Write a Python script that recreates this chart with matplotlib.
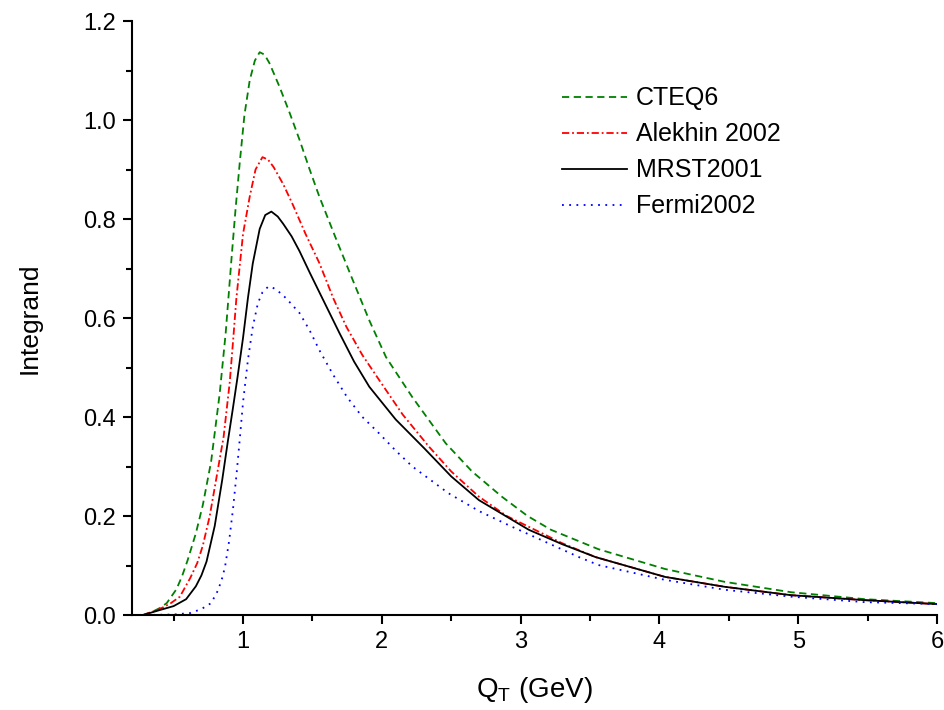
import numpy as np
import matplotlib
matplotlib.use('Agg')
import matplotlib.pyplot as plt
from matplotlib.ticker import MultipleLocator, FormatStrFormatter

plt.rcParams['font.family'] = ['Liberation Sans', 'DejaVu Sans']
plt.rcParams['mathtext.fontset'] = 'custom'
plt.rcParams['mathtext.rm'] = 'Liberation Sans'

# CTEQ6
cteq_x = [0.28, 0.35, 0.40, 0.45, 0.52, 0.56, 0.60, 0.66, 0.71, 0.77, 0.832, 0.875, 0.916, 0.946, 0.976,
          1.01, 1.048, 1.085, 1.12, 1.155, 1.19, 1.263, 1.335, 1.407, 1.48, 1.55, 1.67, 1.79, 1.91, 2.03,
          2.22, 2.46, 2.65, 2.865, 3.05, 3.22, 3.56, 4.04, 4.47, 4.95, 5.48, 6.0]
cteq_y = [0.0, 0.007, 0.014, 0.024, 0.052, 0.078, 0.11, 0.165, 0.222, 0.31, 0.448, 0.57, 0.717, 0.82, 0.913,
          1.01, 1.08, 1.12, 1.137, 1.132, 1.115, 1.067, 1.015, 0.96, 0.9, 0.845, 0.76, 0.677, 0.595, 0.521,
          0.44, 0.347, 0.29, 0.239, 0.2, 0.172, 0.133, 0.093, 0.067, 0.046, 0.032, 0.024]

# Alekhin 2002
alek_x = [0.28, 0.40, 0.48, 0.545, 0.62, 0.67, 0.71, 0.76, 0.81, 0.86, 0.904, 0.93, 0.952, 1.0, 1.048,
          1.09, 1.14, 1.18, 1.22, 1.29, 1.357, 1.45, 1.55, 1.65, 1.745, 1.86, 1.98, 2.15, 2.34, 2.5,
          2.7, 2.9, 3.06, 3.3, 3.54, 4.04, 4.47, 4.95, 5.48, 6.0]
alek_y = [0.0, 0.012, 0.024, 0.037, 0.075, 0.105, 0.14, 0.20, 0.28, 0.36, 0.47, 0.56, 0.64, 0.77, 0.845,
          0.9, 0.925, 0.92, 0.905, 0.87, 0.83, 0.77, 0.711, 0.64, 0.582, 0.525, 0.475, 0.405, 0.34, 0.29,
          0.239, 0.2, 0.178, 0.145, 0.117, 0.077, 0.057, 0.04, 0.030, 0.022]

# MRST2001
mrst_x = [0.28, 0.40, 0.50, 0.59, 0.66, 0.70, 0.737, 0.796, 0.85, 0.89, 0.925, 0.96, 1.0, 1.035, 1.07,
          1.12, 1.16, 1.204, 1.25, 1.29, 1.35, 1.407, 1.48, 1.55, 1.694, 1.8, 1.91, 2.1, 2.305, 2.5, 2.7,
          3.06, 3.3, 3.54, 4.04, 4.47, 4.95, 5.48, 6.0]
mrst_y = [0.0, 0.01, 0.018, 0.032, 0.058, 0.08, 0.108, 0.18, 0.273, 0.35, 0.414, 0.48, 0.56, 0.64, 0.71,
          0.78, 0.808, 0.815, 0.805, 0.79, 0.765, 0.735, 0.692, 0.652, 0.57, 0.512, 0.461, 0.395, 0.337, 0.28, 0.232,
          0.172, 0.143, 0.117, 0.077, 0.057, 0.04, 0.030, 0.022]

# Fermi2002
fermi_x = [0.30, 0.50, 0.62, 0.70, 0.77, 0.82, 0.85, 0.87, 0.90, 0.928, 0.955, 0.976, 1.0, 1.035, 1.07,
           1.107, 1.14, 1.18, 1.205, 1.25, 1.31, 1.407, 1.48, 1.55, 1.65, 1.75, 1.86, 1.98, 2.1, 2.22,
           2.48, 2.7, 2.94, 3.2, 3.42, 3.56, 4.04, 4.47, 4.95, 5.48, 6.0]
fermi_y = [0.0, 0.001, 0.004, 0.012, 0.024, 0.05, 0.075, 0.097, 0.15, 0.215, 0.29, 0.354, 0.43, 0.515, 0.582,
           0.63, 0.652, 0.663, 0.663, 0.655, 0.64, 0.61, 0.575, 0.535, 0.485, 0.44, 0.4, 0.367, 0.332, 0.3,
           0.246, 0.21, 0.178, 0.145, 0.117, 0.101, 0.071, 0.051, 0.037, 0.026, 0.022]

fig = plt.figure(figsize=(9.45, 7.10), dpi=100)
ax = fig.add_axes([0.1397, 0.1338, 0.8518, 0.8366])

lw = 1.3
ax.plot(cteq_x, cteq_y, color='#008000', lw=lw, dashes=(4, 2.5), label='CTEQ6')
ax.plot(alek_x, alek_y, color='#ff0000', lw=lw, dashes=(4, 1.6, 1, 1.6), label='Alekhin 2002')
ax.plot(mrst_x, mrst_y, color='black', lw=lw, label='MRST2001')
ax.plot(fermi_x, fermi_y, color='#0000ff', lw=lw, dashes=(1, 3), label='Fermi2002')

ax.set_xlim(0.2, 6)
ax.set_ylim(0, 1.2)
ax.xaxis.set_major_locator(MultipleLocator(1))
ax.xaxis.set_minor_locator(MultipleLocator(0.5))
ax.yaxis.set_major_locator(MultipleLocator(0.2))
ax.yaxis.set_minor_locator(MultipleLocator(0.1))
ax.yaxis.set_major_formatter(FormatStrFormatter('%.1f'))

for s in ['top', 'right']:
    ax.spines[s].set_visible(False)
for s in ['left', 'bottom']:
    ax.spines[s].set_linewidth(1.5)

ax.tick_params(which='major', direction='out', length=6.5, width=1.5, labelsize=17, pad=5)
ax.tick_params(which='minor', direction='out', length=4, width=1.5)

ax.set_xlabel('Q$_\\mathregular{T}$ (GeV)', fontsize=20, labelpad=16)
ax.set_ylabel('Integrand', fontsize=19, labelpad=30)

ax.legend(loc='upper left', bbox_to_anchor=(0.534, 0.89), frameon=False, fontsize=18,
          handlelength=2.6, handletextpad=0.35, labelspacing=0.48, borderpad=0, borderaxespad=0)

fig.savefig('out.png', dpi=100)
